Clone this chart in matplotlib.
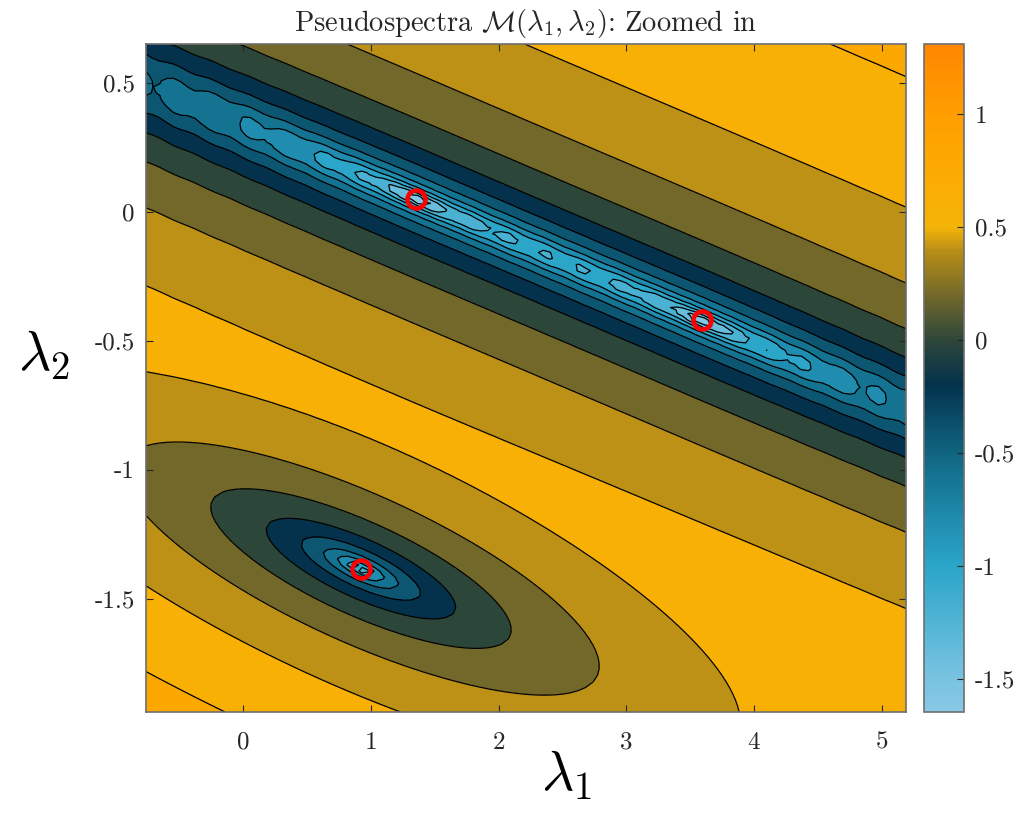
import numpy as np
import matplotlib
matplotlib.use('Agg')
import matplotlib.pyplot as plt
from matplotlib.colors import LinearSegmentedColormap, Normalize
from matplotlib.cm import ScalarMappable

plt.rcParams['font.family'] = 'cmr10'
plt.rcParams['mathtext.fontset'] = 'cm'
plt.rcParams['axes.unicode_minus'] = False
plt.rcParams['axes.formatter.use_mathtext'] = True

# eigenvalues (red circles)
eig_l1 = [1.354, 3.59, 0.923]
eig_l2 = [0.050, -0.422, -1.384]

# window and colour limits
l1_lim = [-0.76, 5.19]
l2_lim = [-1.94, 0.65]
clim = [-1.646, 1.31]

# contour levels of log10(sigma_min)
levels = np.round(np.arange(-1.6, 1.21, 0.2), 2)

# colormap anchors
cm_vals = [-1.646, -1.5, -1.0, -0.8, -0.6, -0.4, -0.2, 0.0, 0.2, 0.4, 0.5, 0.8, 1.0, 1.31]
cm_rgb = [(135, 200, 230), (120, 195, 225), (42, 165, 200), (32, 140, 175),
          (20, 115, 145), (12, 85, 112), (3, 50, 76), (45, 70, 58),
          (114, 104, 42), (186, 143, 22), (245, 180, 8), (253, 168, 0),
          (255, 158, 0), (255, 135, 0)]

# shape of the two low regions
valley_A, valley_b, valley_core = 5.8, 0.12, 0.03
valley_kappa, valley_pow, valley_curv = 0.088, 0.65, 0.0
ripple_amp, ripple_len = 0.12, 0.29
basin_Q = [4.47, 13.1, 64.6]
softmin_p = 6

pos = [(v - clim[0]) / (clim[1] - clim[0]) for v in cm_vals]
cmap = LinearSegmentedColormap.from_list(
    'ps', list(zip(pos, [tuple(c / 255 for c in rgb) for rgb in cm_rgb])))
norm = Normalize(clim[0], clim[1])

x = np.linspace(l1_lim[0], l1_lim[1], 110)
y = np.linspace(l2_lim[0], l2_lim[1], 110)
L1, L2 = np.meshgrid(x, y)

# upper valley: nearly coincident curves crossing at the first two eigenvalues
slope = (eig_l2[1] - eig_l2[0]) / (eig_l1[1] - eig_l1[0])
along = (L1 - eig_l1[0]) * (L1 - eig_l1[1])
centre = eig_l2[0] + slope * (L1 - eig_l1[0]) + valley_curv * along
d = np.abs(L2 - centre)
perp = valley_A * d / (1 + valley_b * d) * d / (d + valley_core)
floor = valley_kappa * np.abs(along) ** valley_pow
floor = floor * (1 + ripple_amp * np.cos(2 * np.pi * (L1 - eig_l1[0]) / ripple_len))
s_up = np.sqrt(perp ** 2 + floor ** 2)

# lower basin round the third eigenvalue
dx = L1 - eig_l1[2]
dy = L2 - eig_l2[2]
s_low = np.sqrt(basin_Q[0] * dx ** 2 + 2 * basin_Q[1] * dx * dy + basin_Q[2] * dy ** 2)

s = (s_up ** -softmin_p + s_low ** -softmin_p) ** (-1.0 / softmin_p)
s = np.sqrt(s ** 2 + (10 ** clim[0]) ** 2)
M = np.log10(s)

fig = plt.figure(figsize=(10.17, 8.27), dpi=100)
ax = fig.add_axes([146 / 1017, 1 - 712 / 827, 760 / 1017, 668 / 827])

fill_levels = np.concatenate([[-5], levels, [5]])
band_cols = [cmap(norm(max(l, clim[0]))) for l in fill_levels[:-1]]
ax.contourf(L1, L2, M, levels=fill_levels, colors=band_cols)
ax.contour(L1, L2, M, levels=levels, colors='k', linewidths=0.9,
           linestyles='solid')

ax.plot(eig_l1, eig_l2, 'o', mfc='none', mec='#ff0000', ms=13, mew=3.2)

ax.set_xlim(l1_lim)
ax.set_ylim(l2_lim)
ax.set_xticks([0, 1, 2, 3, 4, 5])
ax.set_xticklabels(['0', '1', '2', '3', '4', '5'])
ax.set_yticks([-1.5, -1, -0.5, 0, 0.5])
ax.set_yticklabels(['-1.5', '-1', '-0.5', '0', '0.5'])
ax.tick_params(direction='in', top=True, right=True, length=5, width=0.8,
               labelsize=18, colors='#262626')
ax.tick_params(axis='x', pad=14)
ax.tick_params(axis='y', pad=8)
for sp in ax.spines.values():
    sp.set_color('#6e6e6e')
    sp.set_linewidth(1.2)

ax.set_title(r'Pseudospectra $\mathcal{M}(\lambda_1, \lambda_2)$: Zoomed in',
             fontsize=20.5, color='#262626', pad=9)
ax.set_xlabel(r'$\lambda_1$', fontsize=40, va='center', ha='center')
ax.set_ylabel(r'$\lambda_2$', fontsize=40, rotation=0, va='center', ha='center')
ax.xaxis.set_label_coords(0.553, -0.094)
ax.yaxis.set_label_coords(-0.134, 0.534)

cax = fig.add_axes([924 / 1017, 1 - 712 / 827, 40 / 1017, 668 / 827])
cb = fig.colorbar(ScalarMappable(norm=norm, cmap=cmap), cax=cax)
cb.set_ticks([-1.5, -1, -0.5, 0, 0.5, 1])
cb.set_ticklabels(['-1.5', '-1', '-0.5', '0', '0.5', '1'])
cax.tick_params(direction='in', length=5, width=0.8, labelsize=18,
                colors='#262626', pad=8)
cb.outline.set_edgecolor('#6e6e6e')
cb.outline.set_linewidth(1.2)

fig.savefig('out.png', dpi=100)
